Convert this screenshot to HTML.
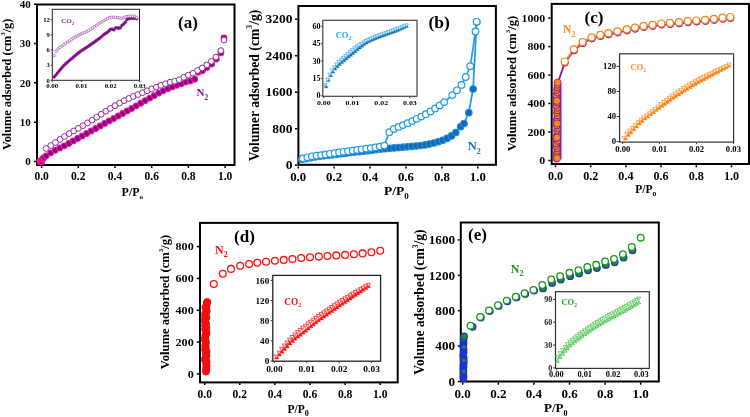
<!DOCTYPE html>
<html><head><meta charset="utf-8"><style>
html,body{margin:0;padding:0;background:#fff;}
svg{display:block;filter:blur(0.45px);}
text{font-family:"Liberation Serif",serif;font-weight:bold;}
</style></head><body>
<svg width="750" height="417" viewBox="0 0 750 417">
<rect x="37" y="4.5" width="197.50" height="160.50" fill="none" stroke="#000" stroke-width="2"/>
<line x1="41.6" y1="166" x2="41.6" y2="168" stroke="#000" stroke-width="1.5"/>
<text x="41.60" y="179.50" font-size="11.5" text-anchor="middle" fill="#000">0.0</text>
<line x1="78.3" y1="166" x2="78.3" y2="168" stroke="#000" stroke-width="1.5"/>
<text x="78.30" y="179.50" font-size="11.5" text-anchor="middle" fill="#000">0.2</text>
<line x1="115.0" y1="166" x2="115.0" y2="168" stroke="#000" stroke-width="1.5"/>
<text x="115.00" y="179.50" font-size="11.5" text-anchor="middle" fill="#000">0.4</text>
<line x1="151.7" y1="166" x2="151.7" y2="168" stroke="#000" stroke-width="1.5"/>
<text x="151.70" y="179.50" font-size="11.5" text-anchor="middle" fill="#000">0.6</text>
<line x1="188.4" y1="166" x2="188.4" y2="168" stroke="#000" stroke-width="1.5"/>
<text x="188.40" y="179.50" font-size="11.5" text-anchor="middle" fill="#000">0.8</text>
<line x1="225.1" y1="166" x2="225.1" y2="168" stroke="#000" stroke-width="1.5"/>
<text x="225.10" y="179.50" font-size="11.5" text-anchor="middle" fill="#000">1.0</text>
<line x1="34" y1="161.5" x2="36" y2="161.5" stroke="#000" stroke-width="1.5"/>
<text x="30.80" y="165.40" font-size="11" text-anchor="end" fill="#000">0</text>
<line x1="34" y1="122.2" x2="36" y2="122.2" stroke="#000" stroke-width="1.5"/>
<text x="30.80" y="126.07" font-size="11" text-anchor="end" fill="#000">10</text>
<line x1="34" y1="82.8" x2="36" y2="82.8" stroke="#000" stroke-width="1.5"/>
<text x="30.80" y="86.73" font-size="11" text-anchor="end" fill="#000">20</text>
<line x1="34" y1="43.5" x2="36" y2="43.5" stroke="#000" stroke-width="1.5"/>
<text x="30.80" y="47.40" font-size="11" text-anchor="end" fill="#000">30</text>
<line x1="34" y1="4.2" x2="36" y2="4.2" stroke="#000" stroke-width="1.5"/>
<text x="30.80" y="8.07" font-size="11" text-anchor="end" fill="#000">40</text>
<text transform="translate(11,84.4) rotate(-90) scale(1.0,1)" font-size="12.3" text-anchor="middle">Volume adsorbed (cm<tspan dy="-5.54" font-size="6.89">3</tspan><tspan dy="5.54">/g)</tspan></text>
<text x="121.60" y="196.00" font-size="12" text-anchor="start" fill="#000">P/P<tspan dy="3" font-size="7">o</tspan></text>
<text x="187.90" y="27.60" font-size="17" text-anchor="middle" fill="#000">(a)</text>
<text x="196.50" y="96.40" font-size="11" text-anchor="start" fill="#7f1a8c">N<tspan dy="3.5" font-size="7.4">2</tspan></text>
<g fill="#7a0a8a" stroke="#f4168f" stroke-width="1.05"><circle cx="39.8" cy="161.5" r="2.9"/><circle cx="40.7" cy="161.5" r="2.9"/><circle cx="41.6" cy="161.5" r="2.9"/><circle cx="42.3" cy="159.5" r="2.9"/><circle cx="43.1" cy="158.4" r="2.9"/><circle cx="43.8" cy="157.6" r="2.9"/><circle cx="46.2" cy="155.8" r="2.9"/><circle cx="50.7" cy="152.8" r="2.9"/><circle cx="55.2" cy="150.3" r="2.9"/><circle cx="59.7" cy="148.0" r="2.9"/><circle cx="64.2" cy="145.8" r="2.9"/><circle cx="68.7" cy="143.4" r="2.9"/><circle cx="73.2" cy="140.9" r="2.9"/><circle cx="77.7" cy="138.4" r="2.9"/><circle cx="82.2" cy="136.0" r="2.9"/><circle cx="86.7" cy="133.5" r="2.9"/><circle cx="91.2" cy="131.0" r="2.9"/><circle cx="95.7" cy="128.5" r="2.9"/><circle cx="100.2" cy="126.0" r="2.9"/><circle cx="104.7" cy="123.4" r="2.9"/><circle cx="109.2" cy="120.9" r="2.9"/><circle cx="113.7" cy="118.5" r="2.9"/><circle cx="118.2" cy="116.0" r="2.9"/><circle cx="122.7" cy="113.5" r="2.9"/><circle cx="127.2" cy="111.0" r="2.9"/><circle cx="131.7" cy="108.5" r="2.9"/><circle cx="136.2" cy="105.8" r="2.9"/><circle cx="140.7" cy="103.2" r="2.9"/><circle cx="145.2" cy="100.6" r="2.9"/><circle cx="149.7" cy="98.1" r="2.9"/><circle cx="154.2" cy="95.6" r="2.9"/><circle cx="158.7" cy="93.1" r="2.9"/><circle cx="163.2" cy="90.8" r="2.9"/><circle cx="167.7" cy="88.7" r="2.9"/><circle cx="172.2" cy="86.9" r="2.9"/><circle cx="176.7" cy="85.2" r="2.9"/><circle cx="181.2" cy="83.7" r="2.9"/><circle cx="185.7" cy="82.1" r="2.9"/><circle cx="190.2" cy="81.0" r="2.9"/><circle cx="194.7" cy="79.2" r="2.9"/><circle cx="198.1" cy="72.2" r="2.9"/><circle cx="202.5" cy="70.5" r="2.9"/><circle cx="206.9" cy="67.4" r="2.9"/><circle cx="211.7" cy="64.1" r="2.9"/><circle cx="216.3" cy="59.1" r="2.9"/><circle cx="220.9" cy="52.9" r="2.9"/><circle cx="224.0" cy="38.0" r="2.9"/></g>
<g fill="#fff" stroke="#8c1c9c" stroke-width="0.95"><circle cx="46.2" cy="148.5" r="2.9"/><circle cx="50.8" cy="145.5" r="2.9"/><circle cx="55.4" cy="142.5" r="2.9"/><circle cx="60.0" cy="139.4" r="2.9"/><circle cx="64.5" cy="136.5" r="2.9"/><circle cx="69.1" cy="133.6" r="2.9"/><circle cx="73.7" cy="130.9" r="2.9"/><circle cx="78.3" cy="128.3" r="2.9"/><circle cx="82.9" cy="125.6" r="2.9"/><circle cx="87.5" cy="122.9" r="2.9"/><circle cx="92.1" cy="120.1" r="2.9"/><circle cx="96.7" cy="117.2" r="2.9"/><circle cx="101.2" cy="114.2" r="2.9"/><circle cx="105.8" cy="111.2" r="2.9"/><circle cx="110.4" cy="108.4" r="2.9"/><circle cx="115.0" cy="105.7" r="2.9"/><circle cx="119.6" cy="103.1" r="2.9"/><circle cx="124.2" cy="100.7" r="2.9"/><circle cx="128.8" cy="98.4" r="2.9"/><circle cx="133.3" cy="96.4" r="2.9"/><circle cx="137.9" cy="94.5" r="2.9"/><circle cx="142.5" cy="92.7" r="2.9"/><circle cx="147.1" cy="90.8" r="2.9"/><circle cx="151.7" cy="89.0" r="2.9"/><circle cx="156.3" cy="87.1" r="2.9"/><circle cx="160.9" cy="85.3" r="2.9"/><circle cx="165.5" cy="83.7" r="2.9"/><circle cx="170.1" cy="82.2" r="2.9"/><circle cx="174.6" cy="81.2" r="2.9"/><circle cx="179.2" cy="79.7" r="2.9"/><circle cx="183.8" cy="77.3" r="2.9"/><circle cx="188.4" cy="75.1" r="2.9"/><circle cx="193.0" cy="73.1" r="2.9"/><circle cx="197.6" cy="70.5" r="2.9"/><circle cx="202.2" cy="68.0" r="2.9"/><circle cx="206.8" cy="64.9" r="2.9"/><circle cx="211.3" cy="61.3" r="2.9"/><circle cx="215.9" cy="57.1" r="2.9"/><circle cx="220.9" cy="50.6" r="2.9"/><circle cx="224.0" cy="40.0" r="2.9"/></g>
<rect x="52.3" y="9.3" width="87.20" height="71.00" fill="#fff" stroke="#222" stroke-width="1"/>
<line x1="52.2" y1="80.8" x2="52.2" y2="82.0" stroke="#000" stroke-width="0.8"/>
<text transform="translate(52.20,88.00) scale(1.05,1)" font-size="6.5" text-anchor="middle" fill="#000">0.00</text>
<line x1="81.4" y1="80.8" x2="81.4" y2="82.0" stroke="#000" stroke-width="0.8"/>
<text transform="translate(81.40,88.00) scale(1.05,1)" font-size="6.5" text-anchor="middle" fill="#000">0.01</text>
<line x1="110.6" y1="80.8" x2="110.6" y2="82.0" stroke="#000" stroke-width="0.8"/>
<text transform="translate(110.60,88.00) scale(1.05,1)" font-size="6.5" text-anchor="middle" fill="#000">0.02</text>
<line x1="139.8" y1="80.8" x2="139.8" y2="82.0" stroke="#000" stroke-width="0.8"/>
<text transform="translate(139.80,88.00) scale(1.05,1)" font-size="6.5" text-anchor="middle" fill="#000">0.03</text>
<line x1="50.8" y1="80.3" x2="52" y2="80.3" stroke="#000" stroke-width="0.8"/>
<text x="49.80" y="82.50" font-size="6.5" text-anchor="end" fill="#000">0</text>
<line x1="50.8" y1="65.2" x2="52" y2="65.2" stroke="#000" stroke-width="0.8"/>
<text x="49.80" y="67.35" font-size="6.5" text-anchor="end" fill="#000">3</text>
<line x1="50.8" y1="50.0" x2="52" y2="50.0" stroke="#000" stroke-width="0.8"/>
<text x="49.80" y="52.20" font-size="6.5" text-anchor="end" fill="#000">6</text>
<line x1="50.8" y1="34.9" x2="52" y2="34.9" stroke="#000" stroke-width="0.8"/>
<text x="49.80" y="37.05" font-size="6.5" text-anchor="end" fill="#000">9</text>
<line x1="50.8" y1="19.7" x2="52" y2="19.7" stroke="#000" stroke-width="0.8"/>
<text x="49.80" y="21.90" font-size="6.5" text-anchor="end" fill="#000">12</text>
<text x="61.20" y="22.80" font-size="7" text-anchor="start" fill="#9c2cae">CO<tspan dy="2" font-size="5">2</tspan></text>
<g fill="#800c8c" stroke="#800c8c" stroke-width="0.4"><circle cx="54.2" cy="77.0" r="1.45"/><circle cx="55.8" cy="75.1" r="1.45"/><circle cx="57.4" cy="73.1" r="1.45"/><circle cx="59.0" cy="71.2" r="1.45"/><circle cx="60.6" cy="69.3" r="1.45"/><circle cx="62.3" cy="67.3" r="1.45"/><circle cx="63.9" cy="65.5" r="1.45"/><circle cx="65.5" cy="63.9" r="1.45"/><circle cx="67.1" cy="62.5" r="1.45"/><circle cx="68.7" cy="61.1" r="1.45"/><circle cx="70.3" cy="59.7" r="1.45"/><circle cx="72.0" cy="58.4" r="1.45"/><circle cx="73.6" cy="57.0" r="1.45"/><circle cx="75.2" cy="55.6" r="1.45"/><circle cx="76.8" cy="54.3" r="1.45"/><circle cx="78.4" cy="53.0" r="1.45"/><circle cx="80.0" cy="51.7" r="1.45"/><circle cx="81.7" cy="50.6" r="1.45"/><circle cx="83.3" cy="49.6" r="1.45"/><circle cx="84.9" cy="48.5" r="1.45"/><circle cx="86.5" cy="47.5" r="1.45"/><circle cx="88.1" cy="46.4" r="1.45"/><circle cx="89.7" cy="45.3" r="1.45"/><circle cx="91.3" cy="44.1" r="1.45"/><circle cx="93.0" cy="43.0" r="1.45"/><circle cx="94.6" cy="41.9" r="1.45"/><circle cx="96.2" cy="40.8" r="1.45"/><circle cx="97.8" cy="39.6" r="1.45"/><circle cx="99.4" cy="38.4" r="1.45"/><circle cx="101.0" cy="37.1" r="1.45"/><circle cx="102.7" cy="35.6" r="1.45"/><circle cx="104.3" cy="34.3" r="1.45"/><circle cx="105.9" cy="33.2" r="1.45"/><circle cx="107.5" cy="32.2" r="1.45"/><circle cx="109.1" cy="30.8" r="1.45"/><circle cx="110.7" cy="29.1" r="1.45"/><circle cx="112.4" cy="29.3" r="1.45"/><circle cx="114.0" cy="29.9" r="1.45"/><circle cx="115.6" cy="27.9" r="1.45"/><circle cx="117.2" cy="27.9" r="1.45"/><circle cx="118.8" cy="28.2" r="1.45"/><circle cx="120.4" cy="27.7" r="1.45"/><circle cx="122.0" cy="25.4" r="1.45"/><circle cx="123.7" cy="24.0" r="1.45"/><circle cx="125.3" cy="22.2" r="1.45"/><circle cx="126.9" cy="19.7" r="1.45"/><circle cx="128.5" cy="18.8" r="1.45"/><circle cx="130.1" cy="18.2" r="1.45"/><circle cx="131.7" cy="18.2" r="1.45"/><circle cx="133.4" cy="18.2" r="1.45"/><circle cx="135.0" cy="18.3" r="1.45"/><circle cx="136.6" cy="18.7" r="1.45"/></g>
<g fill="#fff" stroke="#a03cb0" stroke-width="0.6"><circle cx="54.2" cy="55.7" r="1.3"/><circle cx="56.1" cy="51.3" r="1.3"/><circle cx="58.0" cy="48.9" r="1.3"/><circle cx="59.9" cy="47.3" r="1.3"/><circle cx="61.9" cy="45.9" r="1.3"/><circle cx="63.8" cy="44.6" r="1.3"/><circle cx="65.7" cy="43.3" r="1.3"/><circle cx="67.6" cy="42.1" r="1.3"/><circle cx="69.5" cy="40.9" r="1.3"/><circle cx="71.4" cy="39.5" r="1.3"/><circle cx="73.3" cy="38.2" r="1.3"/><circle cx="75.3" cy="37.0" r="1.3"/><circle cx="77.2" cy="35.9" r="1.3"/><circle cx="79.1" cy="34.9" r="1.3"/><circle cx="81.0" cy="34.0" r="1.3"/><circle cx="82.9" cy="33.2" r="1.3"/><circle cx="84.8" cy="32.4" r="1.3"/><circle cx="86.8" cy="31.6" r="1.3"/><circle cx="88.7" cy="30.5" r="1.3"/><circle cx="90.6" cy="29.4" r="1.3"/><circle cx="92.5" cy="28.1" r="1.3"/><circle cx="94.4" cy="26.8" r="1.3"/><circle cx="96.3" cy="25.5" r="1.3"/><circle cx="98.3" cy="24.1" r="1.3"/><circle cx="100.2" cy="22.8" r="1.3"/><circle cx="102.1" cy="21.7" r="1.3"/><circle cx="104.0" cy="20.6" r="1.3"/><circle cx="105.9" cy="19.4" r="1.3"/><circle cx="107.8" cy="18.3" r="1.3"/><circle cx="109.8" cy="17.7" r="1.3"/><circle cx="111.7" cy="17.3" r="1.3"/><circle cx="113.6" cy="17.2" r="1.3"/><circle cx="115.5" cy="17.4" r="1.3"/><circle cx="117.4" cy="17.7" r="1.3"/><circle cx="119.3" cy="18.0" r="1.3"/><circle cx="121.3" cy="18.2" r="1.3"/><circle cx="123.2" cy="17.9" r="1.3"/><circle cx="125.1" cy="17.1" r="1.3"/><circle cx="127.0" cy="16.6" r="1.3"/><circle cx="128.9" cy="16.3" r="1.3"/><circle cx="130.8" cy="16.2" r="1.3"/><circle cx="132.8" cy="16.2" r="1.3"/><circle cx="134.7" cy="16.2" r="1.3"/><circle cx="136.6" cy="17.7" r="1.3"/></g>
<rect x="298.4" y="6" width="197.50" height="158.80" fill="none" stroke="#000" stroke-width="2"/>
<line x1="298.2" y1="166.5" x2="298.2" y2="168.5" stroke="#000" stroke-width="1.5"/>
<text x="298.20" y="181.00" font-size="12.8" text-anchor="middle" fill="#000">0.0</text>
<line x1="334.1" y1="166.5" x2="334.1" y2="168.5" stroke="#000" stroke-width="1.5"/>
<text x="334.12" y="181.00" font-size="12.8" text-anchor="middle" fill="#000">0.2</text>
<line x1="370.0" y1="166.5" x2="370.0" y2="168.5" stroke="#000" stroke-width="1.5"/>
<text x="370.04" y="181.00" font-size="12.8" text-anchor="middle" fill="#000">0.4</text>
<line x1="406.0" y1="166.5" x2="406.0" y2="168.5" stroke="#000" stroke-width="1.5"/>
<text x="405.96" y="181.00" font-size="12.8" text-anchor="middle" fill="#000">0.6</text>
<line x1="441.9" y1="166.5" x2="441.9" y2="168.5" stroke="#000" stroke-width="1.5"/>
<text x="441.88" y="181.00" font-size="12.8" text-anchor="middle" fill="#000">0.8</text>
<line x1="477.8" y1="166.5" x2="477.8" y2="168.5" stroke="#000" stroke-width="1.5"/>
<text x="477.80" y="181.00" font-size="12.8" text-anchor="middle" fill="#000">1.0</text>
<line x1="294.90000000000003" y1="165.2" x2="297.3" y2="165.2" stroke="#000" stroke-width="1.5"/>
<text x="292.40" y="169.40" font-size="13.5" text-anchor="end" fill="#000">0</text>
<line x1="294.90000000000003" y1="128.7" x2="297.3" y2="128.7" stroke="#000" stroke-width="1.5"/>
<text x="292.40" y="132.90" font-size="13.5" text-anchor="end" fill="#000">800</text>
<line x1="294.90000000000003" y1="92.2" x2="297.3" y2="92.2" stroke="#000" stroke-width="1.5"/>
<text x="292.40" y="96.40" font-size="13.5" text-anchor="end" fill="#000">1600</text>
<line x1="294.90000000000003" y1="55.7" x2="297.3" y2="55.7" stroke="#000" stroke-width="1.5"/>
<text x="292.40" y="59.90" font-size="13.5" text-anchor="end" fill="#000">2400</text>
<line x1="294.90000000000003" y1="19.2" x2="297.3" y2="19.2" stroke="#000" stroke-width="1.5"/>
<text x="292.40" y="23.40" font-size="13.5" text-anchor="end" fill="#000">3200</text>
<text transform="translate(258.6,85.5) rotate(-90) scale(1.0,1)" font-size="13.65" text-anchor="middle">Volumer adsorbed (cm<tspan dy="-6.14" font-size="7.64">3</tspan><tspan dy="6.14">/g)</tspan></text>
<text x="384.00" y="195.40" font-size="13.5" text-anchor="start" fill="#000">P/P<tspan dy="3.4" font-size="9">0</tspan></text>
<text x="439.20" y="28.30" font-size="17.5" text-anchor="middle" fill="#000">(b)</text>
<text x="467.80" y="150.20" font-size="12.5" text-anchor="start" fill="#1a72ba">N<tspan dy="3.5" font-size="8">2</tspan></text>
<polyline points="301.8,159.5 306.2,158.6 310.6,157.7 315.0,156.9 319.4,156.3 323.8,155.8 328.2,155.3 332.6,154.8 337.0,154.3 341.4,153.7 345.8,153.2 350.2,152.6 354.6,152.1 359.0,151.7 363.4,151.2 367.8,150.8 372.2,150.2 376.6,149.6 381.0,149.1 385.4,148.7 389.8,148.3 394.2,147.9 398.6,147.6 403.0,147.2 407.4,146.8 411.8,146.4 416.2,146.0 420.6,145.5 425.0,144.9 429.4,144.1 433.8,143.0 438.2,141.8 442.6,140.3 447.0,138.4 451.4,135.9 455.8,132.6 460.6,126.7 464.0,123.5 468.8,112.7 473.1,89.0 476.7,21.8" fill="none" stroke="#1e96e6" stroke-width="1.7" stroke-linejoin="round"/>
<polyline points="302.9,158.5 307.4,157.3 311.9,156.3 316.4,155.7 321.0,155.1 325.5,154.5 330.0,153.8 334.6,153.1 339.1,152.4 343.6,151.8 348.1,151.2 352.7,150.6 357.2,149.9 361.7,149.3 366.2,148.6 370.8,148.1 375.3,147.4 379.8,146.6 384.3,145.6 389.3,132.2 393.8,129.0 398.4,126.9 403.0,125.1 407.6,123.2 412.2,121.1 416.7,118.8 421.3,116.6 425.9,114.2 430.5,111.5 435.1,108.5 439.6,105.4 444.2,102.1 452.3,95.1 457.0,90.3 461.5,84.9 465.8,77.0 470.3,66.2 475.5,31.5 476.7,21.8" fill="none" stroke="#1e9de8" stroke-width="1.7" stroke-linejoin="round"/>
<g fill="#1668b0" stroke="#1e90e0" stroke-width="1.1"><circle cx="301.8" cy="159.5" r="3.3"/><circle cx="306.2" cy="158.6" r="3.3"/><circle cx="310.6" cy="157.7" r="3.3"/><circle cx="315.0" cy="156.9" r="3.3"/><circle cx="319.4" cy="156.3" r="3.3"/><circle cx="323.8" cy="155.8" r="3.3"/><circle cx="328.2" cy="155.3" r="3.3"/><circle cx="332.6" cy="154.8" r="3.3"/><circle cx="337.0" cy="154.3" r="3.3"/><circle cx="341.4" cy="153.7" r="3.3"/><circle cx="345.8" cy="153.2" r="3.3"/><circle cx="350.2" cy="152.6" r="3.3"/><circle cx="354.6" cy="152.1" r="3.3"/><circle cx="359.0" cy="151.7" r="3.3"/><circle cx="363.4" cy="151.2" r="3.3"/><circle cx="367.8" cy="150.8" r="3.3"/><circle cx="372.2" cy="150.2" r="3.3"/><circle cx="376.6" cy="149.6" r="3.3"/><circle cx="381.0" cy="149.1" r="3.3"/><circle cx="385.4" cy="148.7" r="3.3"/><circle cx="389.8" cy="148.3" r="3.3"/><circle cx="394.2" cy="147.9" r="3.3"/><circle cx="398.6" cy="147.6" r="3.3"/><circle cx="403.0" cy="147.2" r="3.3"/><circle cx="407.4" cy="146.8" r="3.3"/><circle cx="411.8" cy="146.4" r="3.3"/><circle cx="416.2" cy="146.0" r="3.3"/><circle cx="420.6" cy="145.5" r="3.3"/><circle cx="425.0" cy="144.9" r="3.3"/><circle cx="429.4" cy="144.1" r="3.3"/><circle cx="433.8" cy="143.0" r="3.3"/><circle cx="438.2" cy="141.8" r="3.3"/><circle cx="442.6" cy="140.3" r="3.3"/><circle cx="447.0" cy="138.4" r="3.3"/><circle cx="451.4" cy="135.9" r="3.3"/><circle cx="455.8" cy="132.6" r="3.3"/><circle cx="460.6" cy="126.7" r="3.3"/><circle cx="464.0" cy="123.5" r="3.3"/><circle cx="468.8" cy="112.7" r="3.3"/><circle cx="473.1" cy="89.0" r="3.3"/><circle cx="476.7" cy="21.8" r="3.3"/></g>
<g fill="#fff" stroke="#1e9de8" stroke-width="1.2"><circle cx="302.9" cy="158.5" r="3.3"/><circle cx="307.4" cy="157.3" r="3.3"/><circle cx="311.9" cy="156.3" r="3.3"/><circle cx="316.4" cy="155.7" r="3.3"/><circle cx="321.0" cy="155.1" r="3.3"/><circle cx="325.5" cy="154.5" r="3.3"/><circle cx="330.0" cy="153.8" r="3.3"/><circle cx="334.6" cy="153.1" r="3.3"/><circle cx="339.1" cy="152.4" r="3.3"/><circle cx="343.6" cy="151.8" r="3.3"/><circle cx="348.1" cy="151.2" r="3.3"/><circle cx="352.7" cy="150.6" r="3.3"/><circle cx="357.2" cy="149.9" r="3.3"/><circle cx="361.7" cy="149.3" r="3.3"/><circle cx="366.2" cy="148.6" r="3.3"/><circle cx="370.8" cy="148.1" r="3.3"/><circle cx="375.3" cy="147.4" r="3.3"/><circle cx="379.8" cy="146.6" r="3.3"/><circle cx="384.3" cy="145.6" r="3.3"/><circle cx="389.3" cy="132.2" r="3.3"/><circle cx="393.8" cy="129.0" r="3.3"/><circle cx="398.4" cy="126.9" r="3.3"/><circle cx="403.0" cy="125.1" r="3.3"/><circle cx="407.6" cy="123.2" r="3.3"/><circle cx="412.2" cy="121.1" r="3.3"/><circle cx="416.7" cy="118.8" r="3.3"/><circle cx="421.3" cy="116.6" r="3.3"/><circle cx="425.9" cy="114.2" r="3.3"/><circle cx="430.5" cy="111.5" r="3.3"/><circle cx="435.1" cy="108.5" r="3.3"/><circle cx="439.6" cy="105.4" r="3.3"/><circle cx="444.2" cy="102.1" r="3.3"/><circle cx="452.3" cy="95.1" r="3.3"/><circle cx="457.0" cy="90.3" r="3.3"/><circle cx="461.5" cy="84.9" r="3.3"/><circle cx="465.8" cy="77.0" r="3.3"/><circle cx="470.3" cy="66.2" r="3.3"/><circle cx="475.5" cy="31.5" r="3.3"/><circle cx="476.7" cy="21.8" r="3.3"/></g>
<rect x="322.8" y="20.3" width="94.20" height="76.00" fill="#fff" stroke="#444" stroke-width="1.2"/>
<line x1="323.8" y1="96.8" x2="323.8" y2="98.1" stroke="#000" stroke-width="0.8"/>
<text transform="translate(323.80,105.00) scale(1.2,1)" font-size="6.6" text-anchor="middle" fill="#000">0.00</text>
<line x1="352.5" y1="96.8" x2="352.5" y2="98.1" stroke="#000" stroke-width="0.8"/>
<text transform="translate(352.50,105.00) scale(1.2,1)" font-size="6.6" text-anchor="middle" fill="#000">0.01</text>
<line x1="381.2" y1="96.8" x2="381.2" y2="98.1" stroke="#000" stroke-width="0.8"/>
<text transform="translate(381.20,105.00) scale(1.2,1)" font-size="6.6" text-anchor="middle" fill="#000">0.02</text>
<line x1="409.9" y1="96.8" x2="409.9" y2="98.1" stroke="#000" stroke-width="0.8"/>
<text transform="translate(409.90,105.00) scale(1.2,1)" font-size="6.6" text-anchor="middle" fill="#000">0.03</text>
<line x1="320.9" y1="95.8" x2="322.2" y2="95.8" stroke="#000" stroke-width="0.8"/>
<text transform="translate(320.50,98.30) scale(1.12,1)" font-size="7.2" text-anchor="end" fill="#000">0</text>
<line x1="320.9" y1="78.4" x2="322.2" y2="78.4" stroke="#000" stroke-width="0.8"/>
<text transform="translate(320.50,80.92) scale(1.12,1)" font-size="7.2" text-anchor="end" fill="#000">15</text>
<line x1="320.9" y1="61.0" x2="322.2" y2="61.0" stroke="#000" stroke-width="0.8"/>
<text transform="translate(320.50,63.55) scale(1.12,1)" font-size="7.2" text-anchor="end" fill="#000">30</text>
<line x1="320.9" y1="43.7" x2="322.2" y2="43.7" stroke="#000" stroke-width="0.8"/>
<text transform="translate(320.50,46.17) scale(1.12,1)" font-size="7.2" text-anchor="end" fill="#000">45</text>
<line x1="320.9" y1="26.3" x2="322.2" y2="26.3" stroke="#000" stroke-width="0.8"/>
<text transform="translate(320.50,28.80) scale(1.12,1)" font-size="7.2" text-anchor="end" fill="#000">60</text>
<text x="335.70" y="38.20" font-size="8.5" text-anchor="start" fill="#1ea0f0">CO<tspan dy="2" font-size="5.5">2</tspan></text>
<g fill="#1a6fb8" stroke="#1a6fb8" stroke-width="0.4" stroke-linejoin="miter"><polygon points="326.1,84.6 328.0,87.8 324.2,87.8"/><polygon points="328.3,78.3 330.2,81.5 326.4,81.5"/><polygon points="330.6,73.5 332.5,76.7 328.7,76.7"/><polygon points="332.8,69.9 334.7,73.1 330.9,73.1"/><polygon points="335.0,66.8 336.9,70.0 333.1,70.0"/><polygon points="337.3,64.5 339.2,67.7 335.4,67.7"/><polygon points="339.5,62.3 341.4,65.5 337.6,65.5"/><polygon points="341.7,60.4 343.6,63.6 339.8,63.6"/><polygon points="344.0,58.6 345.9,61.8 342.1,61.8"/><polygon points="346.2,56.7 348.1,59.9 344.3,59.9"/><polygon points="348.4,54.9 350.3,58.1 346.5,58.1"/><polygon points="350.7,53.1 352.6,56.3 348.8,56.3"/><polygon points="352.9,51.3 354.8,54.5 351.0,54.5"/><polygon points="355.1,49.5 357.0,52.7 353.2,52.7"/><polygon points="357.3,47.6 359.2,50.8 355.4,50.8"/><polygon points="359.6,45.8 361.5,49.0 357.7,49.0"/><polygon points="361.8,44.1 363.7,47.3 359.9,47.3"/><polygon points="364.0,42.4 365.9,45.6 362.1,45.6"/><polygon points="366.3,40.9 368.2,44.1 364.4,44.1"/><polygon points="368.5,39.6 370.4,42.8 366.6,42.8"/><polygon points="370.7,38.5 372.6,41.7 368.8,41.7"/><polygon points="373.0,37.5 374.9,40.7 371.1,40.7"/><polygon points="375.2,36.5 377.1,39.7 373.3,39.7"/><polygon points="377.4,35.6 379.3,38.8 375.5,38.8"/><polygon points="379.7,34.7 381.6,37.9 377.8,37.9"/><polygon points="381.9,33.9 383.8,37.1 380.0,37.1"/><polygon points="384.1,33.2 386.0,36.4 382.2,36.4"/><polygon points="386.4,32.4 388.3,35.6 384.5,35.6"/><polygon points="388.6,31.6 390.5,34.8 386.7,34.8"/><polygon points="390.8,30.8 392.7,34.0 388.9,34.0"/><polygon points="393.1,30.0 395.0,33.2 391.2,33.2"/><polygon points="395.3,29.2 397.2,32.4 393.4,32.4"/><polygon points="397.5,28.2 399.4,31.4 395.6,31.4"/><polygon points="399.8,27.3 401.7,30.5 397.9,30.5"/><polygon points="402.0,26.3 403.9,29.5 400.1,29.5"/><polygon points="404.2,25.3 406.1,28.5 402.3,28.5"/><polygon points="406.5,24.3 408.4,27.5 404.6,27.5"/></g>
<g fill="#fff" stroke="#3aa8ee" stroke-width="0.75" stroke-linejoin="miter"><polygon points="325.2,86.7 327.0,83.7 323.4,83.7"/><polygon points="327.5,81.2 329.3,78.1 325.7,78.1"/><polygon points="329.7,76.1 331.6,73.1 327.9,73.1"/><polygon points="332.0,71.8 333.8,68.8 330.2,68.8"/><polygon points="334.3,68.7 336.1,65.7 332.5,65.7"/><polygon points="336.5,66.1 338.3,63.0 334.7,63.0"/><polygon points="338.8,63.5 340.6,60.5 337.0,60.5"/><polygon points="341.0,61.3 342.8,58.2 339.2,58.2"/><polygon points="343.3,59.3 345.1,56.3 341.5,56.3"/><polygon points="345.5,57.5 347.3,54.4 343.7,54.4"/><polygon points="347.8,55.5 349.6,52.4 346.0,52.4"/><polygon points="350.1,53.4 351.9,50.4 348.2,50.4"/><polygon points="352.3,51.5 354.1,48.4 350.5,48.4"/><polygon points="354.6,49.7 356.4,46.7 352.8,46.7"/><polygon points="356.8,48.2 358.6,45.1 355.0,45.1"/><polygon points="359.1,46.7 360.9,43.6 357.3,43.6"/><polygon points="361.3,45.2 363.1,42.2 359.5,42.2"/><polygon points="363.6,43.9 365.4,40.9 361.8,40.9"/><polygon points="365.8,42.7 367.7,39.6 364.0,39.6"/><polygon points="368.1,41.5 369.9,38.5 366.3,38.5"/><polygon points="370.4,40.5 372.2,37.4 368.6,37.4"/><polygon points="372.6,39.5 374.4,36.4 370.8,36.4"/><polygon points="374.9,38.5 376.7,35.5 373.1,35.5"/><polygon points="377.1,37.7 378.9,34.6 375.3,34.6"/><polygon points="379.4,36.8 381.2,33.8 377.6,33.8"/><polygon points="381.6,36.0 383.4,32.9 379.8,32.9"/><polygon points="383.9,35.1 385.7,32.1 382.1,32.1"/><polygon points="386.2,34.3 388.0,31.3 384.3,31.3"/><polygon points="388.4,33.5 390.2,30.5 386.6,30.5"/><polygon points="390.7,32.7 392.5,29.7 388.9,29.7"/><polygon points="392.9,32.0 394.7,28.9 391.1,28.9"/><polygon points="395.2,31.2 397.0,28.1 393.4,28.1"/><polygon points="397.4,30.3 399.2,27.3 395.6,27.3"/><polygon points="399.7,29.5 401.5,26.4 397.9,26.4"/><polygon points="401.9,28.6 403.7,25.6 400.1,25.6"/><polygon points="404.2,27.7 406.0,24.7 402.4,24.7"/><polygon points="406.5,26.8 408.3,23.8 404.7,23.8"/></g>
<rect x="551.7" y="3.9" width="197.30" height="160.10" fill="none" stroke="#000" stroke-width="2"/>
<line x1="555.5" y1="165.3" x2="555.5" y2="167.3" stroke="#000" stroke-width="1.5"/>
<text transform="translate(555.50,179.60) scale(1.05,1)" font-size="11.5" text-anchor="middle" fill="#000">0.0</text>
<line x1="590.7" y1="165.3" x2="590.7" y2="167.3" stroke="#000" stroke-width="1.5"/>
<text transform="translate(590.70,179.60) scale(1.05,1)" font-size="11.5" text-anchor="middle" fill="#000">0.2</text>
<line x1="625.9" y1="165.3" x2="625.9" y2="167.3" stroke="#000" stroke-width="1.5"/>
<text transform="translate(625.90,179.60) scale(1.05,1)" font-size="11.5" text-anchor="middle" fill="#000">0.4</text>
<line x1="661.1" y1="165.3" x2="661.1" y2="167.3" stroke="#000" stroke-width="1.5"/>
<text transform="translate(661.10,179.60) scale(1.05,1)" font-size="11.5" text-anchor="middle" fill="#000">0.6</text>
<line x1="696.3" y1="165.3" x2="696.3" y2="167.3" stroke="#000" stroke-width="1.5"/>
<text transform="translate(696.30,179.60) scale(1.05,1)" font-size="11.5" text-anchor="middle" fill="#000">0.8</text>
<line x1="731.5" y1="165.3" x2="731.5" y2="167.3" stroke="#000" stroke-width="1.5"/>
<text transform="translate(731.50,179.60) scale(1.05,1)" font-size="11.5" text-anchor="middle" fill="#000">1.0</text>
<line x1="548.3" y1="160.5" x2="550.5" y2="160.5" stroke="#000" stroke-width="1.5"/>
<text transform="translate(545.20,164.30) scale(1.08,1)" font-size="11" text-anchor="end" fill="#000">0</text>
<line x1="548.3" y1="132.0" x2="550.5" y2="132.0" stroke="#000" stroke-width="1.5"/>
<text transform="translate(545.20,135.82) scale(1.08,1)" font-size="11" text-anchor="end" fill="#000">200</text>
<line x1="548.3" y1="103.5" x2="550.5" y2="103.5" stroke="#000" stroke-width="1.5"/>
<text transform="translate(545.20,107.34) scale(1.08,1)" font-size="11" text-anchor="end" fill="#000">400</text>
<line x1="548.3" y1="75.1" x2="550.5" y2="75.1" stroke="#000" stroke-width="1.5"/>
<text transform="translate(545.20,78.86) scale(1.08,1)" font-size="11" text-anchor="end" fill="#000">600</text>
<line x1="548.3" y1="46.6" x2="550.5" y2="46.6" stroke="#000" stroke-width="1.5"/>
<text transform="translate(545.20,50.38) scale(1.08,1)" font-size="11" text-anchor="end" fill="#000">800</text>
<line x1="548.3" y1="18.1" x2="550.5" y2="18.1" stroke="#000" stroke-width="1.5"/>
<text transform="translate(545.20,21.90) scale(1.08,1)" font-size="11" text-anchor="end" fill="#000">1000</text>
<text transform="translate(515.7,83.5) rotate(-90) scale(1.0,1)" font-size="12.7" text-anchor="middle">Volume adsorbed (cm<tspan dy="-5.71" font-size="7.11">3</tspan><tspan dy="5.71">/g)</tspan></text>
<text x="635.30" y="192.50" font-size="11.5" text-anchor="start" fill="#000">P/P<tspan dy="3.5" font-size="7.6">o</tspan></text>
<text x="594.00" y="23.00" font-size="17" text-anchor="middle" fill="#000">(c)</text>
<text x="562.80" y="33.30" font-size="12" text-anchor="start" fill="#ff8a1e">N<tspan dy="3.4" font-size="8">2</tspan></text>
<polyline points="557.6,83.6 564.7,62.8 573.8,50.6 582.6,43.3 591.6,38.6 600.2,36.2 608.3,34.5 617.5,32.6 626.8,30.6 634.9,28.9 643.5,27.2 652.5,26.1 661.3,24.8 669.9,24.2 678.9,23.5 687.7,22.5 696.3,21.8 705.1,21.1 713.9,20.1 722.5,19.0 730.3,18.2" fill="none" stroke="#8a1a9b" stroke-width="1.8" stroke-linejoin="round"/>
<polyline points="564.7,61.5 573.8,49.3 582.6,42.0 591.6,37.3 600.2,34.9 608.3,33.2 617.5,31.3 626.8,29.3 634.9,27.6 643.5,25.9 652.5,24.8 661.3,23.5 669.9,22.9 678.9,22.2 687.7,21.2 696.3,20.5 705.1,19.8 713.9,18.8 722.5,17.7 730.3,17.0" fill="none" stroke="#ff8a1e" stroke-width="1.8" stroke-linejoin="round"/>
<rect x="554.5" y="83.6" width="7" height="75.5" fill="#8a1a9b"/>
<g fill="#f5821f" stroke="#8a1a9b" stroke-width="1"><circle cx="556.5" cy="158.8" r="3.3"/><circle cx="557.0" cy="156.2" r="3.3"/><circle cx="556.7" cy="153.7" r="3.3"/><circle cx="557.1" cy="151.2" r="3.3"/><circle cx="557.1" cy="148.6" r="3.3"/><circle cx="556.3" cy="146.1" r="3.3"/><circle cx="556.2" cy="143.5" r="3.3"/><circle cx="557.4" cy="141.0" r="3.3"/><circle cx="556.6" cy="138.4" r="3.3"/><circle cx="556.5" cy="135.9" r="3.3"/><circle cx="557.6" cy="133.4" r="3.3"/><circle cx="556.9" cy="130.8" r="3.3"/><circle cx="557.4" cy="128.3" r="3.3"/><circle cx="556.9" cy="125.7" r="3.3"/><circle cx="557.1" cy="123.2" r="3.3"/><circle cx="556.4" cy="120.6" r="3.3"/><circle cx="557.1" cy="118.1" r="3.3"/><circle cx="557.4" cy="115.6" r="3.3"/><circle cx="556.9" cy="113.0" r="3.3"/><circle cx="557.2" cy="110.5" r="3.3"/><circle cx="557.1" cy="107.9" r="3.3"/><circle cx="556.3" cy="105.4" r="3.3"/><circle cx="557.3" cy="102.8" r="3.3"/><circle cx="557.0" cy="100.3" r="3.3"/><circle cx="556.6" cy="97.7" r="3.3"/><circle cx="556.2" cy="95.2" r="3.3"/><circle cx="557.4" cy="92.7" r="3.3"/><circle cx="556.9" cy="90.1" r="3.3"/><circle cx="557.2" cy="87.6" r="3.3"/><circle cx="557.4" cy="85.0" r="3.3"/></g>
<g fill="#f7861f" stroke="#8a1a9b" stroke-width="0.8"><circle cx="557.1" cy="158.2" r="3.6"/><circle cx="556.9" cy="137.6" r="3.6"/><circle cx="557.1" cy="123.6" r="3.6"/><circle cx="556.9" cy="100.8" r="3.6"/><circle cx="557.6" cy="82.6" r="3.6"/></g>
<g fill="#f5821f" stroke="#8a1a9b" stroke-width="1"><circle cx="565.0" cy="62.8" r="3.4"/><circle cx="574.2" cy="50.6" r="3.4"/><circle cx="583.0" cy="43.3" r="3.4"/><circle cx="591.9" cy="38.6" r="3.4"/><circle cx="600.6" cy="36.2" r="3.4"/><circle cx="608.7" cy="34.5" r="3.4"/><circle cx="617.8" cy="32.6" r="3.4"/><circle cx="627.1" cy="30.6" r="3.4"/><circle cx="635.2" cy="28.9" r="3.4"/><circle cx="643.9" cy="27.2" r="3.4"/><circle cx="652.8" cy="26.1" r="3.4"/><circle cx="661.6" cy="24.8" r="3.4"/><circle cx="670.3" cy="24.2" r="3.4"/><circle cx="679.2" cy="23.5" r="3.4"/><circle cx="688.0" cy="22.5" r="3.4"/><circle cx="696.7" cy="21.8" r="3.4"/><circle cx="705.5" cy="21.1" r="3.4"/><circle cx="714.3" cy="20.1" r="3.4"/><circle cx="722.9" cy="19.0" r="3.4"/><circle cx="730.6" cy="18.2" r="3.4"/></g>
<g fill="#fff" stroke="#f5821f" stroke-width="1.2"><circle cx="564.7" cy="61.5" r="3.5"/><circle cx="573.8" cy="49.3" r="3.5"/><circle cx="582.6" cy="42.0" r="3.5"/><circle cx="591.6" cy="37.3" r="3.5"/><circle cx="600.2" cy="34.9" r="3.5"/><circle cx="608.3" cy="33.2" r="3.5"/><circle cx="617.5" cy="31.3" r="3.5"/><circle cx="626.8" cy="29.3" r="3.5"/><circle cx="634.9" cy="27.6" r="3.5"/><circle cx="643.5" cy="25.9" r="3.5"/><circle cx="652.5" cy="24.8" r="3.5"/><circle cx="661.3" cy="23.5" r="3.5"/><circle cx="669.9" cy="22.9" r="3.5"/><circle cx="678.9" cy="22.2" r="3.5"/><circle cx="687.7" cy="21.2" r="3.5"/><circle cx="696.3" cy="20.5" r="3.5"/><circle cx="705.1" cy="19.8" r="3.5"/><circle cx="713.9" cy="18.8" r="3.5"/><circle cx="722.5" cy="17.7" r="3.5"/><circle cx="730.3" cy="17.0" r="3.5"/></g>
<rect x="619.6" y="53.8" width="114.00" height="88.30" fill="#fff" stroke="#333" stroke-width="1.2"/>
<line x1="622.7" y1="142.7" x2="622.7" y2="144.0" stroke="#000" stroke-width="0.8"/>
<text transform="translate(622.70,151.60) scale(1.15,1)" font-size="7.5" text-anchor="middle" fill="#000">0.00</text>
<line x1="659.6" y1="142.7" x2="659.6" y2="144.0" stroke="#000" stroke-width="0.8"/>
<text transform="translate(659.60,151.60) scale(1.15,1)" font-size="7.5" text-anchor="middle" fill="#000">0.01</text>
<line x1="696.5" y1="142.7" x2="696.5" y2="144.0" stroke="#000" stroke-width="0.8"/>
<text transform="translate(696.50,151.60) scale(1.15,1)" font-size="7.5" text-anchor="middle" fill="#000">0.02</text>
<line x1="733.4" y1="142.7" x2="733.4" y2="144.0" stroke="#000" stroke-width="0.8"/>
<text transform="translate(733.40,151.60) scale(1.15,1)" font-size="7.5" text-anchor="middle" fill="#000">0.03</text>
<line x1="616.6" y1="141.6" x2="619" y2="141.6" stroke="#000" stroke-width="0.8"/>
<text transform="translate(616.00,144.10) scale(1.2,1)" font-size="7.2" text-anchor="end" fill="#000">0</text>
<line x1="616.6" y1="116.5" x2="619" y2="116.5" stroke="#000" stroke-width="0.8"/>
<text transform="translate(616.00,119.03) scale(1.2,1)" font-size="7.2" text-anchor="end" fill="#000">40</text>
<line x1="616.6" y1="91.5" x2="619" y2="91.5" stroke="#000" stroke-width="0.8"/>
<text transform="translate(616.00,93.97) scale(1.2,1)" font-size="7.2" text-anchor="end" fill="#000">80</text>
<line x1="616.6" y1="66.4" x2="619" y2="66.4" stroke="#000" stroke-width="0.8"/>
<text transform="translate(616.00,68.90) scale(1.2,1)" font-size="7.2" text-anchor="end" fill="#000">120</text>
<text x="630.40" y="69.60" font-size="8.5" text-anchor="start" fill="#ff8a1e">CO<tspan dy="2" font-size="5.5">2</tspan></text>
<g fill="#ff7f0e" stroke="#ff7f0e" stroke-width="0.4" stroke-linejoin="miter"><polygon points="625.4,136.5 627.5,140.1 623.3,140.1"/><polygon points="628.2,132.9 630.3,136.5 626.1,136.5"/><polygon points="631.0,130.2 633.1,133.8 628.9,133.8"/><polygon points="633.8,127.2 635.9,130.8 631.7,130.8"/><polygon points="636.6,124.3 638.7,127.9 634.5,127.9"/><polygon points="639.4,121.3 641.5,124.9 637.3,124.9"/><polygon points="642.2,118.9 644.3,122.5 640.1,122.5"/><polygon points="645.0,116.4 647.1,120.0 642.9,120.0"/><polygon points="647.8,114.3 649.9,117.9 645.7,117.9"/><polygon points="650.6,112.0 652.7,115.6 648.5,115.6"/><polygon points="653.4,110.1 655.5,113.7 651.3,113.7"/><polygon points="656.2,107.8 658.3,111.4 654.0,111.4"/><polygon points="659.0,105.8 661.1,109.4 656.8,109.4"/><polygon points="661.8,103.8 663.9,107.4 659.6,107.4"/><polygon points="664.6,101.8 666.7,105.4 662.4,105.4"/><polygon points="667.4,99.9 669.5,103.5 665.2,103.5"/><polygon points="670.2,97.9 672.3,101.5 668.0,101.5"/><polygon points="673.0,96.0 675.1,99.6 670.8,99.6"/><polygon points="675.8,94.1 677.9,97.7 673.6,97.7"/><polygon points="678.6,92.3 680.7,95.9 676.4,95.9"/><polygon points="681.4,90.4 683.5,94.0 679.2,94.0"/><polygon points="684.2,88.6 686.3,92.2 682.0,92.2"/><polygon points="687.0,86.8 689.1,90.4 684.8,90.4"/><polygon points="689.8,85.1 691.9,88.7 687.6,88.7"/><polygon points="692.6,83.4 694.7,87.0 690.4,87.0"/><polygon points="695.4,81.8 697.5,85.4 693.2,85.4"/><polygon points="698.2,80.2 700.3,83.8 696.0,83.8"/><polygon points="701.0,78.6 703.1,82.2 698.8,82.2"/><polygon points="703.8,77.1 705.9,80.7 701.6,80.7"/><polygon points="706.6,75.5 708.7,79.1 704.4,79.1"/><polygon points="709.4,74.0 711.5,77.6 707.2,77.6"/><polygon points="712.2,72.5 714.3,76.1 710.0,76.1"/><polygon points="715.0,71.0 717.1,74.6 712.8,74.6"/><polygon points="717.8,69.6 719.9,73.2 715.6,73.2"/><polygon points="720.6,68.1 722.7,71.7 718.4,71.7"/><polygon points="723.4,66.6 725.5,70.2 721.2,70.2"/><polygon points="726.2,65.1 728.3,68.7 724.0,68.7"/><polygon points="729.0,63.5 731.1,67.1 726.8,67.1"/></g>
<g fill="#fff" stroke="#ff8a1e" stroke-width="0.75" stroke-linejoin="miter"><polygon points="623.8,139.6 625.8,136.3 621.8,136.3"/><polygon points="626.6,135.4 628.6,132.0 624.7,132.0"/><polygon points="629.5,132.5 631.5,129.1 627.5,129.1"/><polygon points="632.3,129.9 634.3,126.6 630.3,126.6"/><polygon points="635.2,127.0 637.2,123.6 633.2,123.6"/><polygon points="638.0,124.1 640.0,120.7 636.0,120.7"/><polygon points="640.9,121.6 642.9,118.2 638.9,118.2"/><polygon points="643.7,119.3 645.7,115.9 641.7,115.9"/><polygon points="646.5,117.2 648.5,113.9 644.6,113.9"/><polygon points="649.4,115.1 651.4,111.8 647.4,111.8"/><polygon points="652.2,113.0 654.2,109.6 650.2,109.6"/><polygon points="655.1,110.8 657.1,107.4 653.1,107.4"/><polygon points="657.9,108.5 659.9,105.1 655.9,105.1"/><polygon points="660.8,106.0 662.8,102.7 658.8,102.7"/><polygon points="663.6,103.8 665.6,100.4 661.6,100.4"/><polygon points="666.4,101.6 668.4,98.3 664.4,98.3"/><polygon points="669.3,99.5 671.3,96.2 667.3,96.2"/><polygon points="672.1,97.5 674.1,94.1 670.1,94.1"/><polygon points="675.0,95.5 677.0,92.2 673.0,92.2"/><polygon points="677.8,93.6 679.8,90.2 675.8,90.2"/><polygon points="680.7,91.7 682.6,88.3 678.7,88.3"/><polygon points="683.5,89.9 685.5,86.5 681.5,86.5"/><polygon points="686.3,88.1 688.3,84.8 684.3,84.8"/><polygon points="689.2,86.4 691.2,83.1 687.2,83.1"/><polygon points="692.0,84.8 694.0,81.4 690.0,81.4"/><polygon points="694.9,83.2 696.9,79.8 692.9,79.8"/><polygon points="697.7,81.6 699.7,78.3 695.7,78.3"/><polygon points="700.5,80.1 702.5,76.8 698.6,76.8"/><polygon points="703.4,78.7 705.4,75.3 701.4,75.3"/><polygon points="706.2,77.3 708.2,73.9 704.2,73.9"/><polygon points="709.1,75.9 711.1,72.5 707.1,72.5"/><polygon points="711.9,74.5 713.9,71.2 709.9,71.2"/><polygon points="714.8,73.2 716.8,69.8 712.8,69.8"/><polygon points="717.6,71.8 719.6,68.5 715.6,68.5"/><polygon points="720.4,70.5 722.4,67.1 718.5,67.1"/><polygon points="723.3,69.1 725.3,65.7 721.3,65.7"/><polygon points="726.1,67.7 728.1,64.4 724.1,64.4"/><polygon points="729.0,66.3 731.0,62.9 727.0,62.9"/></g>
<rect x="200" y="222.9" width="197.70" height="159.50" fill="none" stroke="#000" stroke-width="2"/>
<line x1="204.7" y1="383" x2="204.7" y2="385" stroke="#000" stroke-width="1.5"/>
<text x="204.70" y="398.00" font-size="11.5" text-anchor="middle" fill="#000">0.0</text>
<line x1="239.8" y1="383" x2="239.8" y2="385" stroke="#000" stroke-width="1.5"/>
<text x="239.80" y="398.00" font-size="11.5" text-anchor="middle" fill="#000">0.2</text>
<line x1="274.9" y1="383" x2="274.9" y2="385" stroke="#000" stroke-width="1.5"/>
<text x="274.90" y="398.00" font-size="11.5" text-anchor="middle" fill="#000">0.4</text>
<line x1="310.0" y1="383" x2="310.0" y2="385" stroke="#000" stroke-width="1.5"/>
<text x="310.00" y="398.00" font-size="11.5" text-anchor="middle" fill="#000">0.6</text>
<line x1="345.1" y1="383" x2="345.1" y2="385" stroke="#000" stroke-width="1.5"/>
<text x="345.10" y="398.00" font-size="11.5" text-anchor="middle" fill="#000">0.8</text>
<line x1="380.2" y1="383" x2="380.2" y2="385" stroke="#000" stroke-width="1.5"/>
<text x="380.20" y="398.00" font-size="11.5" text-anchor="middle" fill="#000">1.0</text>
<line x1="196.7" y1="374.0" x2="199" y2="374.0" stroke="#000" stroke-width="1.5"/>
<text transform="translate(193.70,377.80) scale(1.1,1)" font-size="11" text-anchor="end" fill="#000">0</text>
<line x1="196.7" y1="342.1" x2="199" y2="342.1" stroke="#000" stroke-width="1.5"/>
<text transform="translate(193.70,345.95) scale(1.1,1)" font-size="11" text-anchor="end" fill="#000">200</text>
<line x1="196.7" y1="310.3" x2="199" y2="310.3" stroke="#000" stroke-width="1.5"/>
<text transform="translate(193.70,314.10) scale(1.1,1)" font-size="11" text-anchor="end" fill="#000">400</text>
<line x1="196.7" y1="278.4" x2="199" y2="278.4" stroke="#000" stroke-width="1.5"/>
<text transform="translate(193.70,282.25) scale(1.1,1)" font-size="11" text-anchor="end" fill="#000">600</text>
<line x1="196.7" y1="246.6" x2="199" y2="246.6" stroke="#000" stroke-width="1.5"/>
<text transform="translate(193.70,250.40) scale(1.1,1)" font-size="11" text-anchor="end" fill="#000">800</text>
<text transform="translate(169,302) rotate(-90) scale(1.0,1)" font-size="12.6" text-anchor="middle">Volume adsorbed (cm<tspan dy="-5.67" font-size="7.06">3</tspan><tspan dy="5.67">/g)</tspan></text>
<text x="287.50" y="412.60" font-size="11.5" text-anchor="start" fill="#000">P/P<tspan dy="3.4" font-size="8">0</tspan></text>
<text x="244.50" y="242.40" font-size="17" text-anchor="middle" fill="#000">(d)</text>
<text x="215.00" y="253.50" font-size="12" text-anchor="start" fill="#ff0a0a">N<tspan dy="3.6" font-size="8">2</tspan></text>
<g fill="#ee1010" stroke="#ee1010" stroke-width="1"><circle cx="206.0" cy="371.6" r="3.5"/><circle cx="206.2" cy="369.6" r="3.5"/><circle cx="206.3" cy="367.6" r="3.5"/><circle cx="206.5" cy="365.6" r="3.5"/><circle cx="206.2" cy="363.6" r="3.5"/><circle cx="206.5" cy="361.6" r="3.5"/><circle cx="204.9" cy="359.6" r="3.5"/><circle cx="205.7" cy="357.6" r="3.5"/><circle cx="206.5" cy="355.6" r="3.5"/><circle cx="206.0" cy="353.6" r="3.5"/><circle cx="206.5" cy="351.6" r="3.5"/><circle cx="205.1" cy="349.6" r="3.5"/><circle cx="205.7" cy="347.6" r="3.5"/><circle cx="205.3" cy="345.6" r="3.5"/><circle cx="205.8" cy="343.6" r="3.5"/><circle cx="205.9" cy="341.6" r="3.5"/><circle cx="204.9" cy="339.6" r="3.5"/><circle cx="205.3" cy="337.6" r="3.5"/><circle cx="205.4" cy="335.6" r="3.5"/><circle cx="206.5" cy="333.6" r="3.5"/><circle cx="206.2" cy="331.6" r="3.5"/><circle cx="205.2" cy="329.6" r="3.5"/><circle cx="206.3" cy="327.6" r="3.5"/><circle cx="205.1" cy="325.5" r="3.5"/><circle cx="206.0" cy="323.5" r="3.5"/><circle cx="205.1" cy="321.5" r="3.5"/><circle cx="204.9" cy="319.5" r="3.5"/><circle cx="206.4" cy="317.5" r="3.5"/><circle cx="205.2" cy="315.5" r="3.5"/><circle cx="205.3" cy="313.5" r="3.5"/><circle cx="206.6" cy="311.5" r="3.5"/><circle cx="206.4" cy="309.5" r="3.5"/><circle cx="205.4" cy="307.5" r="3.5"/><circle cx="206.6" cy="305.5" r="3.5"/><circle cx="206.8" cy="303.1" r="3.5"/><circle cx="207.2" cy="302.0" r="3.5"/></g>
<g fill="#fff" stroke="#ff1010" stroke-width="1.3"><circle cx="213.8" cy="284.0" r="3.4"/><circle cx="222.8" cy="273.7" r="3.4"/><circle cx="231.0" cy="268.9" r="3.4"/><circle cx="240.2" cy="265.7" r="3.4"/><circle cx="249.1" cy="264.1" r="3.4"/><circle cx="257.3" cy="262.8" r="3.4"/><circle cx="266.1" cy="261.7" r="3.4"/><circle cx="274.9" cy="260.8" r="3.4"/><circle cx="283.7" cy="259.9" r="3.4"/><circle cx="292.4" cy="259.0" r="3.4"/><circle cx="301.2" cy="258.1" r="3.4"/><circle cx="310.0" cy="257.3" r="3.4"/><circle cx="318.8" cy="256.6" r="3.4"/><circle cx="327.5" cy="256.0" r="3.4"/><circle cx="336.3" cy="255.4" r="3.4"/><circle cx="345.1" cy="254.9" r="3.4"/><circle cx="353.9" cy="254.2" r="3.4"/><circle cx="362.6" cy="253.4" r="3.4"/><circle cx="371.4" cy="252.2" r="3.4"/><circle cx="380.2" cy="250.7" r="3.4"/></g>
<rect x="272.8" y="275.4" width="107.80" height="85.80" fill="#fff" stroke="#222" stroke-width="1.3"/>
<line x1="274.4" y1="361.8" x2="274.4" y2="363.1" stroke="#000" stroke-width="0.8"/>
<text transform="translate(274.40,371.60) scale(1.15,1)" font-size="8.2" text-anchor="middle" fill="#000">0.00</text>
<line x1="306.8" y1="361.8" x2="306.8" y2="363.1" stroke="#000" stroke-width="0.8"/>
<text transform="translate(306.80,371.60) scale(1.15,1)" font-size="8.2" text-anchor="middle" fill="#000">0.01</text>
<line x1="339.2" y1="361.8" x2="339.2" y2="363.1" stroke="#000" stroke-width="0.8"/>
<text transform="translate(339.20,371.60) scale(1.15,1)" font-size="8.2" text-anchor="middle" fill="#000">0.02</text>
<line x1="371.6" y1="361.8" x2="371.6" y2="363.1" stroke="#000" stroke-width="0.8"/>
<text transform="translate(371.60,371.60) scale(1.15,1)" font-size="8.2" text-anchor="middle" fill="#000">0.03</text>
<line x1="270.59999999999997" y1="361.0" x2="272.2" y2="361.0" stroke="#000" stroke-width="0.8"/>
<text x="269.20" y="364.10" font-size="9.1" text-anchor="end" fill="#000">0</text>
<line x1="270.59999999999997" y1="340.9" x2="272.2" y2="340.9" stroke="#000" stroke-width="0.8"/>
<text x="269.20" y="343.95" font-size="9.1" text-anchor="end" fill="#000">40</text>
<line x1="270.59999999999997" y1="320.7" x2="272.2" y2="320.7" stroke="#000" stroke-width="0.8"/>
<text x="269.20" y="323.80" font-size="9.1" text-anchor="end" fill="#000">80</text>
<line x1="270.59999999999997" y1="300.5" x2="272.2" y2="300.5" stroke="#000" stroke-width="0.8"/>
<text x="269.20" y="303.65" font-size="9.1" text-anchor="end" fill="#000">120</text>
<line x1="270.59999999999997" y1="280.4" x2="272.2" y2="280.4" stroke="#000" stroke-width="0.8"/>
<text x="269.20" y="283.50" font-size="9.1" text-anchor="end" fill="#000">160</text>
<text x="284.30" y="304.60" font-size="9.4" text-anchor="start" fill="#ff1010">CO<tspan dy="2.1" font-size="6.2">2</tspan></text>
<g fill="#ff1010" stroke="#ff1010" stroke-width="0.4" stroke-linejoin="miter"><polygon points="276.7,355.4 278.9,359.1 274.5,359.1"/><polygon points="279.3,352.4 281.5,356.1 277.1,356.1"/><polygon points="281.9,349.5 284.1,353.2 279.7,353.2"/><polygon points="284.5,346.7 286.7,350.4 282.3,350.4"/><polygon points="287.1,344.0 289.3,347.7 285.0,347.7"/><polygon points="289.8,341.3 292.0,344.9 287.6,344.9"/><polygon points="292.4,338.7 294.6,342.4 290.2,342.4"/><polygon points="295.0,336.4 297.2,340.1 292.8,340.1"/><polygon points="297.6,334.4 299.8,338.1 295.4,338.1"/><polygon points="300.2,332.6 302.4,336.2 298.1,336.2"/><polygon points="302.9,330.6 305.1,334.2 300.7,334.2"/><polygon points="305.5,328.5 307.7,332.2 303.3,332.2"/><polygon points="308.1,326.3 310.3,330.0 305.9,330.0"/><polygon points="310.7,324.2 312.9,327.8 308.5,327.8"/><polygon points="313.3,322.1 315.5,325.8 311.2,325.8"/><polygon points="316.0,320.1 318.1,323.8 313.8,323.8"/><polygon points="318.6,318.2 320.8,321.8 316.4,321.8"/><polygon points="321.2,316.2 323.4,319.9 319.0,319.9"/><polygon points="323.8,314.4 326.0,318.0 321.6,318.0"/><polygon points="326.4,312.5 328.6,316.2 324.3,316.2"/><polygon points="329.1,310.7 331.2,314.3 326.9,314.3"/><polygon points="331.7,308.8 333.9,312.5 329.5,312.5"/><polygon points="334.3,307.0 336.5,310.7 332.1,310.7"/><polygon points="336.9,305.2 339.1,308.9 334.7,308.9"/><polygon points="339.5,303.4 341.7,307.1 337.4,307.1"/><polygon points="342.2,301.7 344.3,305.3 340.0,305.3"/><polygon points="344.8,299.9 347.0,303.6 342.6,303.6"/><polygon points="347.4,298.1 349.6,301.8 345.2,301.8"/><polygon points="350.0,296.3 352.2,300.0 347.8,300.0"/><polygon points="352.6,294.6 354.8,298.2 350.5,298.2"/><polygon points="355.3,292.8 357.4,296.5 353.1,296.5"/><polygon points="357.9,291.1 360.1,294.8 355.7,294.8"/><polygon points="360.5,289.4 362.7,293.0 358.3,293.0"/><polygon points="363.1,287.6 365.3,291.3 360.9,291.3"/><polygon points="365.7,285.9 367.9,289.6 363.6,289.6"/><polygon points="368.4,284.1 370.5,287.8 366.2,287.8"/></g>
<g fill="#fff" stroke="#ff1010" stroke-width="0.75" stroke-linejoin="miter"><polygon points="276.3,358.3 278.3,355.0 274.3,355.0"/><polygon points="279.0,354.5 281.0,351.2 277.0,351.2"/><polygon points="281.6,350.8 283.6,347.4 279.6,347.4"/><polygon points="284.2,347.4 286.2,344.0 282.2,344.0"/><polygon points="286.9,344.3 288.9,341.0 284.9,341.0"/><polygon points="289.5,341.5 291.5,338.1 287.5,338.1"/><polygon points="292.1,338.9 294.1,335.5 290.1,335.5"/><polygon points="294.7,336.4 296.7,333.0 292.8,333.0"/><polygon points="297.4,334.0 299.4,330.6 295.4,330.6"/><polygon points="300.0,331.7 302.0,328.4 298.0,328.4"/><polygon points="302.6,329.6 304.6,326.2 300.6,326.2"/><polygon points="305.3,327.5 307.3,324.2 303.3,324.2"/><polygon points="307.9,325.5 309.9,322.1 305.9,322.1"/><polygon points="310.5,323.5 312.5,320.2 308.5,320.2"/><polygon points="313.2,321.6 315.1,318.3 311.2,318.3"/><polygon points="315.8,319.7 317.8,316.4 313.8,316.4"/><polygon points="318.4,317.9 320.4,314.5 316.4,314.5"/><polygon points="321.0,316.1 323.0,312.7 319.0,312.7"/><polygon points="323.7,314.3 325.7,310.9 321.7,310.9"/><polygon points="326.3,312.5 328.3,309.1 324.3,309.1"/><polygon points="328.9,310.7 330.9,307.3 326.9,307.3"/><polygon points="331.6,308.9 333.5,305.5 329.6,305.5"/><polygon points="334.2,307.1 336.2,303.7 332.2,303.7"/><polygon points="336.8,305.3 338.8,302.0 334.8,302.0"/><polygon points="339.4,303.6 341.4,300.2 337.4,300.2"/><polygon points="342.1,301.9 344.1,298.5 340.1,298.5"/><polygon points="344.7,300.2 346.7,296.9 342.7,296.9"/><polygon points="347.3,298.6 349.3,295.3 345.3,295.3"/><polygon points="350.0,297.0 352.0,293.7 348.0,293.7"/><polygon points="352.6,295.5 354.6,292.1 350.6,292.1"/><polygon points="355.2,294.0 357.2,290.6 353.2,290.6"/><polygon points="357.8,292.5 359.8,289.1 355.8,289.1"/><polygon points="360.5,291.0 362.5,287.7 358.5,287.7"/><polygon points="363.1,289.5 365.1,286.2 361.1,286.2"/><polygon points="365.7,288.0 367.7,284.7 363.7,284.7"/><polygon points="368.4,286.5 370.4,283.2 366.4,283.2"/></g>
<rect x="460.8" y="222.5" width="198.00" height="159.00" fill="none" stroke="#000" stroke-width="2"/>
<line x1="462.7" y1="382.5" x2="462.7" y2="384.7" stroke="#000" stroke-width="1.5"/>
<text x="462.70" y="397.60" font-size="13" text-anchor="middle" fill="#000">0.0</text>
<line x1="498.3" y1="382.5" x2="498.3" y2="384.7" stroke="#000" stroke-width="1.5"/>
<text x="498.30" y="397.60" font-size="13" text-anchor="middle" fill="#000">0.2</text>
<line x1="533.9" y1="382.5" x2="533.9" y2="384.7" stroke="#000" stroke-width="1.5"/>
<text x="533.90" y="397.60" font-size="13" text-anchor="middle" fill="#000">0.4</text>
<line x1="569.5" y1="382.5" x2="569.5" y2="384.7" stroke="#000" stroke-width="1.5"/>
<text x="569.50" y="397.60" font-size="13" text-anchor="middle" fill="#000">0.6</text>
<line x1="605.1" y1="382.5" x2="605.1" y2="384.7" stroke="#000" stroke-width="1.5"/>
<text x="605.10" y="397.60" font-size="13" text-anchor="middle" fill="#000">0.8</text>
<line x1="640.7" y1="382.5" x2="640.7" y2="384.7" stroke="#000" stroke-width="1.5"/>
<text x="640.70" y="397.60" font-size="13" text-anchor="middle" fill="#000">1.0</text>
<line x1="457.8" y1="381.5" x2="459.8" y2="381.5" stroke="#000" stroke-width="1.5"/>
<text x="455.10" y="385.80" font-size="13.2" text-anchor="end" fill="#000">0</text>
<line x1="457.8" y1="346.1" x2="459.8" y2="346.1" stroke="#000" stroke-width="1.5"/>
<text x="455.10" y="350.40" font-size="13.2" text-anchor="end" fill="#000">400</text>
<line x1="457.8" y1="310.7" x2="459.8" y2="310.7" stroke="#000" stroke-width="1.5"/>
<text x="455.10" y="315.00" font-size="13.2" text-anchor="end" fill="#000">800</text>
<line x1="457.8" y1="275.3" x2="459.8" y2="275.3" stroke="#000" stroke-width="1.5"/>
<text x="455.10" y="279.60" font-size="13.2" text-anchor="end" fill="#000">1200</text>
<line x1="457.8" y1="239.9" x2="459.8" y2="239.9" stroke="#000" stroke-width="1.5"/>
<text x="455.10" y="244.20" font-size="13.2" text-anchor="end" fill="#000">1600</text>
<text transform="translate(424.4,302) rotate(-90) scale(1.0,1)" font-size="13.6" text-anchor="middle">Volume adsorbed (cm<tspan dy="-6.12" font-size="7.62">3</tspan><tspan dy="6.12">/g)</tspan></text>
<text x="544.00" y="412.40" font-size="13" text-anchor="start" fill="#000">P/P<tspan dy="3.1" font-size="8">0</tspan></text>
<text x="477.50" y="239.60" font-size="17" text-anchor="middle" fill="#000">(e)</text>
<text x="510.80" y="272.60" font-size="12" text-anchor="start" fill="#1a9a1a">N<tspan dy="3.3" font-size="8">2</tspan></text>
<g fill="#1a8f1a" stroke="#2030d8" stroke-width="1.3"><circle cx="463.5" cy="378.8" r="3.0"/><circle cx="463.3" cy="377.9" r="3.0"/><circle cx="463.7" cy="376.9" r="3.0"/><circle cx="463.3" cy="375.9" r="3.0"/><circle cx="463.6" cy="375.0" r="3.0"/><circle cx="463.5" cy="374.0" r="3.0"/><circle cx="463.3" cy="373.0" r="3.0"/><circle cx="463.6" cy="372.0" r="3.0"/><circle cx="463.3" cy="371.1" r="3.0"/><circle cx="463.5" cy="370.1" r="3.0"/><circle cx="463.3" cy="369.1" r="3.0"/><circle cx="463.3" cy="368.2" r="3.0"/><circle cx="463.5" cy="367.2" r="3.0"/><circle cx="463.8" cy="366.2" r="3.0"/><circle cx="463.3" cy="365.2" r="3.0"/><circle cx="463.4" cy="364.3" r="3.0"/><circle cx="463.7" cy="363.3" r="3.0"/><circle cx="463.9" cy="362.3" r="3.0"/><circle cx="463.6" cy="361.4" r="3.0"/><circle cx="463.5" cy="360.4" r="3.0"/><circle cx="463.9" cy="359.4" r="3.0"/><circle cx="463.3" cy="358.4" r="3.0"/><circle cx="463.8" cy="357.5" r="3.0"/><circle cx="463.4" cy="356.5" r="3.0"/><circle cx="463.3" cy="355.5" r="3.0"/><circle cx="463.3" cy="354.6" r="3.0"/><circle cx="463.5" cy="353.6" r="3.0"/><circle cx="463.8" cy="352.6" r="3.0"/><circle cx="463.4" cy="351.6" r="3.0"/><circle cx="463.6" cy="350.7" r="3.0"/><circle cx="463.7" cy="349.7" r="3.0"/><circle cx="463.5" cy="348.7" r="3.0"/><circle cx="463.6" cy="347.8" r="3.0"/><circle cx="463.3" cy="346.8" r="3.0"/><circle cx="463.3" cy="345.8" r="3.0"/><circle cx="463.4" cy="344.8" r="3.0"/><circle cx="463.7" cy="343.9" r="3.0"/><circle cx="463.5" cy="342.9" r="3.0"/><circle cx="463.5" cy="341.9" r="3.0"/><circle cx="463.7" cy="341.0" r="3.0"/><circle cx="463.6" cy="340.0" r="3.0"/><circle cx="463.4" cy="339.0" r="3.0"/></g>
<g fill="#2a8a2a" stroke="#2030d8" stroke-width="0.8"><circle cx="463.8" cy="371.6" r="2.2"/><circle cx="463.8" cy="360.5" r="2.2"/><circle cx="463.9" cy="347.1" r="2.2"/></g>
<g fill="#1a8f1a" stroke="#2030d8" stroke-width="1.1"><circle cx="464.1" cy="336.4" r="3.3"/></g>
<g fill="#1a8f1a" stroke="#2030d8" stroke-width="1.2"><circle cx="472.7" cy="326.8" r="3.3"/><circle cx="480.9" cy="317.6" r="3.3"/><circle cx="489.8" cy="311.1" r="3.3"/><circle cx="498.7" cy="305.9" r="3.3"/><circle cx="507.4" cy="301.3" r="3.3"/><circle cx="516.5" cy="297.4" r="3.3"/><circle cx="525.2" cy="293.9" r="3.3"/><circle cx="534.1" cy="290.6" r="3.3"/><circle cx="543.0" cy="288.4" r="3.3"/><circle cx="552.1" cy="282.9" r="3.3"/><circle cx="560.8" cy="279.5" r="3.3"/><circle cx="570.2" cy="276.2" r="3.3"/><circle cx="579.1" cy="273.4" r="3.3"/><circle cx="588.0" cy="270.3" r="3.3"/><circle cx="596.9" cy="268.1" r="3.3"/><circle cx="605.8" cy="264.9" r="3.3"/><circle cx="614.7" cy="262.3" r="3.3"/><circle cx="623.6" cy="257.5" r="3.3"/><circle cx="632.5" cy="250.3" r="3.3"/></g>
<g fill="#fff" stroke="#1a961a" stroke-width="1.3"><circle cx="470.5" cy="325.7" r="3.3"/><circle cx="480.1" cy="316.9" r="3.3"/><circle cx="489.0" cy="310.4" r="3.3"/><circle cx="497.9" cy="305.2" r="3.3"/><circle cx="506.7" cy="300.6" r="3.3"/><circle cx="515.7" cy="296.7" r="3.3"/><circle cx="524.5" cy="293.2" r="3.3"/><circle cx="533.4" cy="289.9" r="3.3"/><circle cx="542.3" cy="285.0" r="3.3"/><circle cx="551.3" cy="279.5" r="3.3"/><circle cx="560.1" cy="276.2" r="3.3"/><circle cx="569.5" cy="272.8" r="3.3"/><circle cx="578.4" cy="270.1" r="3.3"/><circle cx="587.3" cy="266.9" r="3.3"/><circle cx="596.2" cy="264.8" r="3.3"/><circle cx="605.1" cy="261.5" r="3.3"/><circle cx="614.0" cy="258.9" r="3.3"/><circle cx="622.9" cy="254.1" r="3.3"/><circle cx="631.8" cy="247.0" r="3.3"/><circle cx="640.7" cy="237.7" r="3.3"/></g>
<rect x="555.5" y="291.7" width="93.80" height="76.70" fill="#fff" stroke="#333" stroke-width="1.2"/>
<line x1="556.4" y1="368.9" x2="556.4" y2="370.2" stroke="#000" stroke-width="0.8"/>
<text transform="translate(556.40,377.00) scale(1.1,1)" font-size="7.6" text-anchor="middle" fill="#000">0.00</text>
<line x1="584.7" y1="368.9" x2="584.7" y2="370.2" stroke="#000" stroke-width="0.8"/>
<text transform="translate(584.70,377.00) scale(1.1,1)" font-size="7.6" text-anchor="middle" fill="#000">0.01</text>
<line x1="613.0" y1="368.9" x2="613.0" y2="370.2" stroke="#000" stroke-width="0.8"/>
<text transform="translate(613.00,377.00) scale(1.1,1)" font-size="7.6" text-anchor="middle" fill="#000">0.02</text>
<line x1="641.3" y1="368.9" x2="641.3" y2="370.2" stroke="#000" stroke-width="0.8"/>
<text transform="translate(641.30,377.00) scale(1.1,1)" font-size="7.6" text-anchor="middle" fill="#000">0.03</text>
<line x1="553" y1="367.9" x2="555" y2="367.9" stroke="#000" stroke-width="0.8"/>
<text x="552.30" y="370.70" font-size="8" text-anchor="end" fill="#222">0</text>
<line x1="553" y1="345.1" x2="555" y2="345.1" stroke="#000" stroke-width="0.8"/>
<text x="552.30" y="347.87" font-size="8" text-anchor="end" fill="#222">30</text>
<line x1="553" y1="322.2" x2="555" y2="322.2" stroke="#000" stroke-width="0.8"/>
<text x="552.30" y="325.03" font-size="8" text-anchor="end" fill="#222">60</text>
<line x1="553" y1="299.4" x2="555" y2="299.4" stroke="#000" stroke-width="0.8"/>
<text x="552.30" y="302.20" font-size="8" text-anchor="end" fill="#222">90</text>
<text x="561.40" y="304.90" font-size="8.5" text-anchor="start" fill="#2aa02a">CO<tspan dy="2" font-size="5.5">2</tspan></text>
<g fill="#b8ecb8" stroke="#3cbc3c" stroke-width="0.75" stroke-linejoin="miter"><polygon points="557.5,359.1 559.4,362.3 555.6,362.3"/><polygon points="560.0,355.3 561.9,358.5 558.1,358.5"/><polygon points="562.5,352.0 564.4,355.2 560.6,355.2"/><polygon points="564.9,349.0 566.8,352.2 563.0,352.2"/><polygon points="567.4,346.3 569.3,349.5 565.5,349.5"/><polygon points="569.8,343.9 571.7,347.1 567.9,347.1"/><polygon points="572.3,341.7 574.2,344.9 570.4,344.9"/><polygon points="574.8,339.7 576.7,342.9 572.9,342.9"/><polygon points="577.2,337.8 579.1,341.0 575.3,341.0"/><polygon points="579.7,336.0 581.6,339.2 577.8,339.2"/><polygon points="582.1,334.2 584.0,337.4 580.2,337.4"/><polygon points="584.6,332.4 586.5,335.6 582.7,335.6"/><polygon points="587.1,330.7 589.0,333.9 585.2,333.9"/><polygon points="589.5,329.0 591.4,332.2 587.6,332.2"/><polygon points="592.0,327.4 593.9,330.6 590.1,330.6"/><polygon points="594.5,325.8 596.4,329.0 592.6,329.0"/><polygon points="596.9,324.2 598.8,327.4 595.0,327.4"/><polygon points="599.4,322.7 601.3,325.9 597.5,325.9"/><polygon points="601.8,321.2 603.7,324.4 599.9,324.4"/><polygon points="604.3,319.8 606.2,323.0 602.4,323.0"/><polygon points="606.8,318.4 608.7,321.6 604.9,321.6"/><polygon points="609.2,317.1 611.1,320.3 607.3,320.3"/><polygon points="611.7,315.8 613.6,319.0 609.8,319.0"/><polygon points="614.1,314.5 616.0,317.7 612.2,317.7"/><polygon points="616.6,313.2 618.5,316.4 614.7,316.4"/><polygon points="619.1,311.9 621.0,315.1 617.2,315.1"/><polygon points="621.5,310.5 623.4,313.7 619.6,313.7"/><polygon points="624.0,309.2 625.9,312.4 622.1,312.4"/><polygon points="626.4,307.8 628.3,311.0 624.5,311.0"/><polygon points="628.9,306.4 630.8,309.6 627.0,309.6"/><polygon points="631.4,305.0 633.3,308.2 629.5,308.2"/><polygon points="633.8,303.6 635.7,306.8 631.9,306.8"/><polygon points="636.3,302.1 638.2,305.3 634.4,305.3"/><polygon points="638.8,300.7 640.7,303.9 636.9,303.9"/></g>
<g fill="#fff" stroke="#44c044" stroke-width="0.75" stroke-linejoin="miter"><polygon points="557.5,358.6 559.4,355.4 555.6,355.4"/><polygon points="560.0,354.9 561.9,351.7 558.1,351.7"/><polygon points="562.5,351.5 564.4,348.3 560.6,348.3"/><polygon points="564.9,348.6 566.8,345.4 563.0,345.4"/><polygon points="567.4,345.9 569.3,342.7 565.5,342.7"/><polygon points="569.8,343.4 571.7,340.2 567.9,340.2"/><polygon points="572.3,341.3 574.2,338.1 570.4,338.1"/><polygon points="574.8,339.3 576.7,336.1 572.9,336.1"/><polygon points="577.2,337.4 579.1,334.2 575.3,334.2"/><polygon points="579.7,335.6 581.6,332.4 577.8,332.4"/><polygon points="582.1,333.8 584.0,330.6 580.2,330.6"/><polygon points="584.6,332.0 586.5,328.8 582.7,328.8"/><polygon points="587.1,330.3 589.0,327.1 585.2,327.1"/><polygon points="589.5,328.6 591.4,325.4 587.6,325.4"/><polygon points="592.0,327.0 593.9,323.8 590.1,323.8"/><polygon points="594.5,325.3 596.4,322.1 592.6,322.1"/><polygon points="596.9,323.8 598.8,320.6 595.0,320.6"/><polygon points="599.4,322.3 601.3,319.1 597.5,319.1"/><polygon points="601.8,320.8 603.7,317.6 599.9,317.6"/><polygon points="604.3,319.4 606.2,316.2 602.4,316.2"/><polygon points="606.8,318.0 608.7,314.8 604.9,314.8"/><polygon points="609.2,316.7 611.1,313.5 607.3,313.5"/><polygon points="611.7,315.4 613.6,312.2 609.8,312.2"/><polygon points="614.1,314.1 616.0,310.9 612.2,310.9"/><polygon points="616.6,312.8 618.5,309.6 614.7,309.6"/><polygon points="619.1,311.5 621.0,308.3 617.2,308.3"/><polygon points="621.5,310.1 623.4,306.9 619.6,306.9"/><polygon points="624.0,308.8 625.9,305.6 622.1,305.6"/><polygon points="626.4,307.4 628.3,304.2 624.5,304.2"/><polygon points="628.9,306.0 630.8,302.8 627.0,302.8"/><polygon points="631.4,304.6 633.3,301.4 629.5,301.4"/><polygon points="633.8,303.2 635.7,300.0 631.9,300.0"/><polygon points="636.3,301.7 638.2,298.5 634.4,298.5"/><polygon points="638.8,300.3 640.7,297.1 636.9,297.1"/></g>
</svg></body></html>
